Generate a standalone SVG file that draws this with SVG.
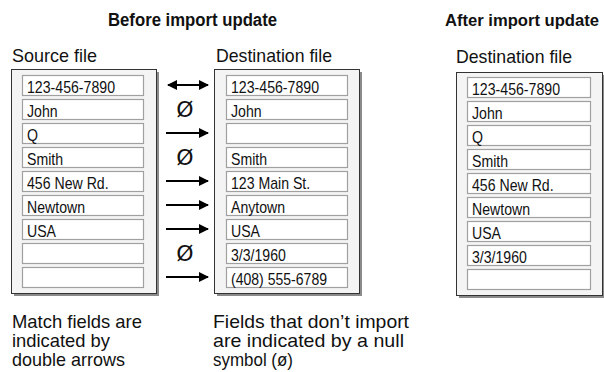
<svg xmlns="http://www.w3.org/2000/svg" width="604" height="372" viewBox="0 0 604 372">
<defs>
<style>
text{font-family:"Liberation Sans",Arial,sans-serif;fill:#111}
.t{font-weight:bold;font-size:18px}
.h{font-size:19px}
.f{font-size:17px}
.c{font-size:19px}
.n{font-size:22px;font-family:"DejaVu Sans",sans-serif}
.panel{fill:#f4f4f4;stroke:#333;stroke-width:1}
.sh{fill:#8a8a8a}
.fld{fill:#fff;stroke:#a0a0a0;stroke-width:1.2}
.ar{stroke:#000;stroke-width:2.2;fill:none}
</style>
<marker id="ah" viewBox="0 0 10 10" refX="9" refY="5" markerWidth="10" markerHeight="10" markerUnits="userSpaceOnUse" orient="auto-start-reverse">
<path d="M0,0 L10,5 L0,10 Z" fill="#000"/>
</marker>
</defs>
<text class="t" x="108" y="26" textLength="169" lengthAdjust="spacingAndGlyphs">Before import update</text>
<text class="t" x="445" y="26" style="font-size:17px" textLength="154" lengthAdjust="spacingAndGlyphs">After import update</text>
<g id="source">
<text class="h" x="12" y="62" textLength="85" lengthAdjust="spacingAndGlyphs">Source file</text>
<rect class="sh" x="14" y="72" width="145" height="224"/>
<rect class="panel" x="11.5" y="69.5" width="145" height="224"/>
<rect class="fld" x="22.5" y="75.5" width="121" height="20"/><text class="f" x="27" y="93" textLength="88" lengthAdjust="spacingAndGlyphs">123-456-7890</text>
<rect class="fld" x="22.5" y="99.5" width="121" height="20"/><text class="f" x="27" y="117" textLength="30.6" lengthAdjust="spacingAndGlyphs">John</text>
<rect class="fld" x="22.5" y="123.5" width="121" height="20"/><text class="f" x="27" y="141" textLength="11" lengthAdjust="spacingAndGlyphs">Q</text>
<rect class="fld" x="22.5" y="147.5" width="121" height="20"/><text class="f" x="27" y="165" textLength="36.1" lengthAdjust="spacingAndGlyphs">Smith</text>
<rect class="fld" x="22.5" y="171.5" width="121" height="20"/><text class="f" x="27" y="189" textLength="81.6" lengthAdjust="spacingAndGlyphs">456 New Rd.</text>
<rect class="fld" x="22.5" y="195.5" width="121" height="20"/><text class="f" x="27" y="213" textLength="58" lengthAdjust="spacingAndGlyphs">Newtown</text>
<rect class="fld" x="22.5" y="219.5" width="121" height="20"/><text class="f" x="27" y="237" textLength="29" lengthAdjust="spacingAndGlyphs">USA</text>
<rect class="fld" x="22.5" y="243.5" width="121" height="20"/>
<rect class="fld" x="22.5" y="267.5" width="121" height="20"/>
</g>
<g id="dest-before">
<text class="h" x="216" y="62" textLength="116" lengthAdjust="spacingAndGlyphs">Destination file</text>
<rect class="sh" x="217" y="72" width="145" height="224"/>
<rect class="panel" x="214.5" y="69.5" width="145" height="224"/>
<rect class="fld" x="226.5" y="75.5" width="121" height="20"/><text class="f" x="231" y="93" textLength="88" lengthAdjust="spacingAndGlyphs">123-456-7890</text>
<rect class="fld" x="226.5" y="99.5" width="121" height="20"/><text class="f" x="231" y="117" textLength="30.6" lengthAdjust="spacingAndGlyphs">John</text>
<rect class="fld" x="226.5" y="123.5" width="121" height="20"/>
<rect class="fld" x="226.5" y="147.5" width="121" height="20"/><text class="f" x="231" y="165" textLength="36.1" lengthAdjust="spacingAndGlyphs">Smith</text>
<rect class="fld" x="226.5" y="171.5" width="121" height="20"/><text class="f" x="231" y="189" textLength="79.2" lengthAdjust="spacingAndGlyphs">123 Main St.</text>
<rect class="fld" x="226.5" y="195.5" width="121" height="20"/><text class="f" x="231" y="213" textLength="54.1" lengthAdjust="spacingAndGlyphs">Anytown</text>
<rect class="fld" x="226.5" y="219.5" width="121" height="20"/><text class="f" x="231" y="237" textLength="29" lengthAdjust="spacingAndGlyphs">USA</text>
<rect class="fld" x="226.5" y="243.5" width="121" height="20"/><text class="f" x="231" y="261" textLength="54.9" lengthAdjust="spacingAndGlyphs">3/3/1960</text>
<rect class="fld" x="226.5" y="267.5" width="121" height="20"/><text class="f" x="231" y="285" textLength="96" lengthAdjust="spacingAndGlyphs">(408) 555-6789</text>
</g>
<g id="dest-after">
<text class="h" x="456" y="63" textLength="116" lengthAdjust="spacingAndGlyphs">Destination file</text>
<rect class="sh" x="459" y="75" width="146" height="223"/>
<rect class="panel" x="456.5" y="72.5" width="146" height="223"/>
<rect class="fld" x="467.5" y="77.5" width="123" height="20"/><text class="f" x="472" y="95" textLength="88" lengthAdjust="spacingAndGlyphs">123-456-7890</text>
<rect class="fld" x="467.5" y="101.5" width="123" height="20"/><text class="f" x="472" y="119" textLength="30.6" lengthAdjust="spacingAndGlyphs">John</text>
<rect class="fld" x="467.5" y="125.5" width="123" height="20"/><text class="f" x="472" y="143" textLength="11" lengthAdjust="spacingAndGlyphs">Q</text>
<rect class="fld" x="467.5" y="149.5" width="123" height="20"/><text class="f" x="472" y="167" textLength="36.1" lengthAdjust="spacingAndGlyphs">Smith</text>
<rect class="fld" x="467.5" y="173.5" width="123" height="20"/><text class="f" x="472" y="191" textLength="81.6" lengthAdjust="spacingAndGlyphs">456 New Rd.</text>
<rect class="fld" x="467.5" y="197.5" width="123" height="20"/><text class="f" x="472" y="215" textLength="58" lengthAdjust="spacingAndGlyphs">Newtown</text>
<rect class="fld" x="467.5" y="221.5" width="123" height="20"/><text class="f" x="472" y="239" textLength="29" lengthAdjust="spacingAndGlyphs">USA</text>
<rect class="fld" x="467.5" y="245.5" width="123" height="20"/><text class="f" x="472" y="263" textLength="54.9" lengthAdjust="spacingAndGlyphs">3/3/1960</text>
<rect class="fld" x="467.5" y="269.5" width="123" height="20"/>
</g>
<g id="connectors">
<line class="ar" x1="168" y1="85" x2="208" y2="85" marker-start="url(#ah)" marker-end="url(#ah)"/>
<line class="ar" x1="166" y1="133" x2="208" y2="133" marker-end="url(#ah)"/>
<line class="ar" x1="166" y1="181" x2="208" y2="181" marker-end="url(#ah)"/>
<line class="ar" x1="166" y1="205" x2="208" y2="205" marker-end="url(#ah)"/>
<line class="ar" x1="166" y1="229" x2="208" y2="229" marker-end="url(#ah)"/>
<line class="ar" x1="166" y1="277" x2="208" y2="277" marker-end="url(#ah)"/>
<text class="n" x="185" y="117" text-anchor="middle">Ø</text>
<text class="n" x="185" y="165" text-anchor="middle">Ø</text>
<text class="n" x="185" y="261" text-anchor="middle">Ø</text>
</g>
<g id="captions">
<text class="c" x="12" y="328" textLength="130" lengthAdjust="spacingAndGlyphs">Match fields are</text>
<text class="c" x="12" y="347" textLength="98" lengthAdjust="spacingAndGlyphs">indicated by</text>
<text class="c" x="12" y="366" textLength="113" lengthAdjust="spacingAndGlyphs">double arrows</text>
<text class="c" x="213" y="328" textLength="196" lengthAdjust="spacingAndGlyphs">Fields that don’t import</text>
<text class="c" x="213" y="347" textLength="191" lengthAdjust="spacingAndGlyphs">are indicated by a null</text>
<text class="c" x="213" y="366" textLength="80" lengthAdjust="spacingAndGlyphs">symbol (ø)</text>
</g>
</svg>
